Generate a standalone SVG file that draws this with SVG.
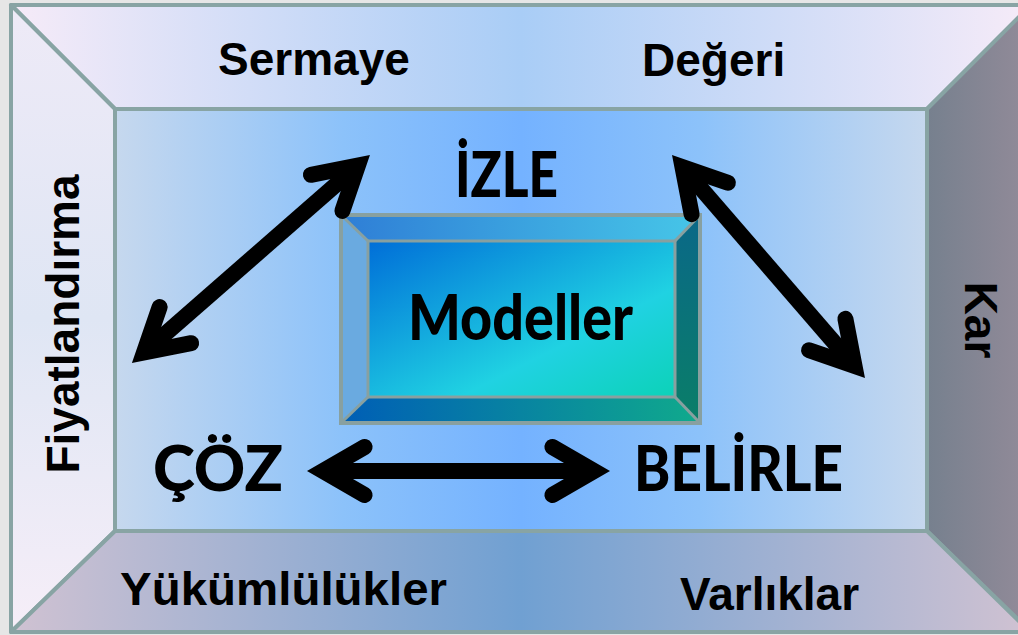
<svg xmlns="http://www.w3.org/2000/svg" width="1018" height="635" viewBox="0 0 1018 635">
<defs>
<style>
.edge{stroke:#88a4a4;stroke-width:4;stroke-linejoin:round}
.lbl{font-family:"Liberation Sans",Arial,sans-serif;font-weight:bold;font-size:46px;fill:#000}
.big{font-family:Lato,"Open Sans",sans-serif;font-weight:900;font-size:62px;fill:#000}
.arr{fill:none;stroke:#000;stroke-width:16}
.head{stroke-linejoin:miter;stroke-miterlimit:10;stroke-linecap:round}
</style>
<linearGradient id="gTop" x1="0" y1="0" x2="1" y2="0">
<stop offset="0" stop-color="#f6ebf8"/><stop offset="0.5" stop-color="#a9cdf6"/><stop offset="1" stop-color="#f6ebf8"/>
</linearGradient>
<linearGradient id="gLeft" x1="0" y1="0" x2="0" y2="1">
<stop offset="0" stop-color="#eeeaf7"/><stop offset="0.5" stop-color="#dfe6f4"/><stop offset="1" stop-color="#f6eef8"/>
</linearGradient>
<linearGradient id="gRight" x1="0" y1="0" x2="1" y2="0">
<stop offset="0" stop-color="#76808e"/><stop offset="1" stop-color="#938b99"/>
</linearGradient>
<linearGradient id="gBot" x1="0" y1="0" x2="1" y2="0">
<stop offset="0" stop-color="#d0c2d2"/><stop offset="0.5" stop-color="#70a0d2"/><stop offset="1" stop-color="#d0c2d2"/>
</linearGradient>
<linearGradient id="gCen" x1="0" y1="0" x2="1" y2="0">
<stop offset="0" stop-color="#c6d8ee"/><stop offset="0.28" stop-color="#8cc2fa"/><stop offset="0.5" stop-color="#74b2ff"/><stop offset="0.72" stop-color="#8cc2fa"/><stop offset="1" stop-color="#c6d8ee"/>
</linearGradient>
<linearGradient id="gFace" x1="0" y1="0" x2="1" y2="1">
<stop offset="0" stop-color="#006ed8"/><stop offset="0.65" stop-color="#20d2e2"/><stop offset="1" stop-color="#0cd2b8"/>
</linearGradient>
<linearGradient id="gBTop" x1="0" y1="0" x2="1" y2="0">
<stop offset="0" stop-color="#2f7ed6"/><stop offset="1" stop-color="#46c6e8"/>
</linearGradient>
<linearGradient id="gBRight" x1="0" y1="0" x2="0" y2="1">
<stop offset="0" stop-color="#0a6888"/><stop offset="1" stop-color="#0a7e68"/>
</linearGradient>
<linearGradient id="gBBot" x1="0" y1="0" x2="1" y2="0">
<stop offset="0" stop-color="#005eb6"/><stop offset="1" stop-color="#10aa8c"/>
</linearGradient>
</defs>
<rect x="0" y="0" width="1018" height="635" fill="#e6e6e6"/>

<g id="panel-top">
<polygon class="edge" points="11,5 1031,5 927,109 115,109" fill="url(#gTop)"/>
<text class="lbl" x="218" y="75">Sermaye</text>
<text class="lbl" x="642" y="76">Değeri</text>
</g>
<g id="panel-left">
<polygon class="edge" points="11,5 115,109 115,531 11,632" fill="url(#gLeft)"/>
<text class="lbl" text-anchor="middle" transform="translate(79,324) rotate(-90)">Fiyatlandırma</text>
</g>
<g id="panel-right">
<polygon class="edge" points="1031,5 1031,632 927,531 927,109" fill="url(#gRight)"/>
<text class="lbl" text-anchor="middle" transform="translate(965,320) rotate(90)">Kar</text>
</g>
<g id="panel-bottom">
<polygon class="edge" points="115,531 927,531 1030,632 11,632" fill="url(#gBot)"/>
<text class="lbl" x="120" y="605" textLength="327" lengthAdjust="spacingAndGlyphs">Yükümlülükler</text>
<text class="lbl" x="680" y="610">Varlıklar</text>
</g>
<g id="panel-center">
<rect class="edge" x="115" y="109" width="812" height="422" fill="url(#gCen)"/>
</g>

<g id="node-modeller">
<polygon points="341,215 700,215 675,241 368,241" fill="url(#gBTop)"/>
<polygon points="341,215 368,241 368,397 341,423" fill="#6aaae0"/>
<polygon points="700,215 700,423 675,397 675,241" fill="url(#gBRight)"/>
<polygon points="341,423 368,397 675,397 700,423" fill="url(#gBBot)"/>
<rect x="368" y="241" width="307" height="156" fill="url(#gFace)" stroke="#88a0a0" stroke-width="3"/>
<g stroke="#88a0a0" stroke-width="3">
<line x1="341" y1="215" x2="368" y2="241"/><line x1="700" y1="215" x2="675" y2="241"/>
<line x1="341" y1="423" x2="368" y2="397"/><line x1="700" y1="423" x2="675" y2="397"/>
</g>
<rect x="341" y="215" width="359" height="208" fill="none" stroke="#88a0a0" stroke-width="4"/>
<text class="big" x="408" y="340" font-size="51" textLength="225" lengthAdjust="spacingAndGlyphs">Modeller</text>
</g>

<g id="node-izle"><text class="big" x="455" y="197" textLength="103" lengthAdjust="spacingAndGlyphs">İZLE</text></g>
<g id="node-coz"><text class="big" x="153" y="491" textLength="130" lengthAdjust="spacingAndGlyphs">ÇÖZ</text></g>
<g id="node-belirle"><text class="big" x="634" y="491" textLength="209" lengthAdjust="spacingAndGlyphs">BELİRLE</text></g>

<g id="connectors">
<g class="arr">
<line x1="357.9" y1="165.5" x2="144" y2="352.5"/>
<polyline class="head" points="310.9,174.8 357.9,165.5 342.4,210.9"/>
<polyline class="head" points="191.1,343.2 144,352.5 159.6,307.1"/>
<line x1="682.5" y1="167.1" x2="854.5" y2="365.9"/>
<polyline class="head" points="691.6,214.2 682.5,167.1 727.9,182.8"/>
<polyline class="head" points="845.4,318.8 854.5,365.9 809.1,350.2"/>
<line x1="323" y1="471" x2="594" y2="471"/>
<polyline class="head" points="364.6,447 323,471 364.6,495"/>
<polyline class="head" points="552.4,447 594,471 552.4,495"/>
</g>
</g>
</svg>
